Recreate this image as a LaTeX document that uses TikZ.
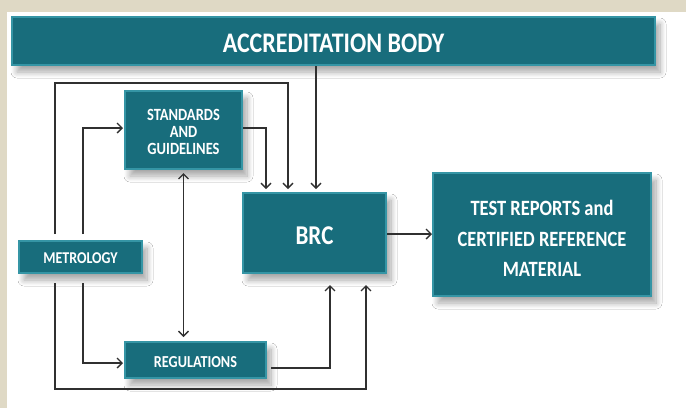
\documentclass[tikz,border=0pt]{standalone}
\usepackage{fontspec}
\setmainfont{Carlito}
\usetikzlibrary{arrows.meta,shadows.blur,calc}
\definecolor{paper}{HTML}{DFD9C5}
\definecolor{tealfill}{HTML}{186D7C}
\definecolor{tealedge}{HTML}{3595A5}
\definecolor{wire}{HTML}{303030}
% block text: slightly tall letters, set a little below the block centre
\newcommand\blocktext[2]{\raisebox{-#1}[\height][\depth]{\scalebox{1}[1.18]{\begin{tabular}{@{}c@{}}#2\end{tabular}}}}
\tikzset{
  block/.style={draw=tealedge, line width=2pt, fill=tealfill, text=white,
    font=\bfseries, inner sep=0pt,
    blur shadow={shadow xshift=5pt, shadow yshift=-7pt, shadow blur radius=6pt, shadow opacity=35, shadow blur steps=10}},
  arr/.style={draw=wire, line width=1.3pt, -{Straight Barb[length=5pt,width=10pt,line width=1.3pt]}},
  dbl/.style={draw=wire, line width=1.3pt, {Straight Barb[length=5pt,width=10pt,line width=1.3pt]}-{Straight Barb[length=5pt,width=10pt,line width=1.3pt]}}
}
\begin{document}
\begin{tikzpicture}[x=1pt,y=-1pt]
  % page: beige frame with a white panel
  \fill[paper] (0,0) rectangle (686,408);
  \fill[white] (7,12) rectangle (686,408);
  \useasboundingbox (0,0) rectangle (686,408);

  % blocks
  \node[block, minimum width=643pt, minimum height=48pt, font=\bfseries\fontsize{24}{26}\selectfont]
    (acc) at (333.5,41) {\blocktext{5pt}{ACCREDITATION BODY}};
  \node[block, minimum width=117pt, minimum height=78pt, font=\bfseries\fontsize{14.5}{14.5}\selectfont]
    (std) at (183.5,130) {\blocktext{4pt}{STANDARDS\\AND\\GUIDELINES}};
  \node[block, minimum width=143pt, minimum height=80pt, font=\bfseries\fontsize{23}{26}\selectfont]
    (brc) at (314.5,233) {\blocktext{5pt}{BRC}};
  \node[block, minimum width=218pt, minimum height=123pt, font=\bfseries\fontsize{18.5}{25.5}\selectfont]
    (test) at (542,234.5) {\blocktext{5.5pt}{TEST REPORTS and\\CERTIFIED REFERENCE\\MATERIAL}};
  \node[block, minimum width=123pt, minimum height=32pt, font=\bfseries\fontsize{14}{16}\selectfont]
    (met) at (80.5,257) {\blocktext{3pt}{METROLOGY}};
  \node[block, minimum width=141pt, minimum height=36pt, font=\bfseries\fontsize{14.2}{16}\selectfont]
    (reg) at (195.5,360) {\blocktext{4pt}{REGULATIONS}};

  % routing columns and rows
  \coordinate (c55) at (55,0);
  \coordinate (c83) at (83,0);
  \coordinate (c266) at (266,0);
  \coordinate (c288) at (288,0);
  \coordinate (c316) at (316,0);
  \coordinate (c330) at (330,0);
  \coordinate (c366) at (366,0);
  \coordinate (r83) at (0,83);
  \coordinate (r128) at (0,128);
  \coordinate (r234) at (0,234);
  \coordinate (r363) at (0,363);
  \coordinate (r368) at (0,368);
  \coordinate (r389) at (0,389);

  % connectors
  \draw[arr, shorten <=6pt, shorten >=3pt]
    (met.north -| c55) |- (r83 -| c288) -- (brc.north -| c288);
  \draw[arr, shorten <=6pt, shorten >=1pt]
    (met.north -| c83) |- (std.west |- r128);
  \draw[arr, shorten >=3pt]
    (std.east |- r128) -| (brc.north -| c266);
  \draw[arr, shorten >=3pt]
    (acc.south -| c316) -- (brc.north -| c316);
  \draw[dbl, shorten <=3pt, shorten >=4pt]
    (std.south) -- (std.south |- reg.north);
  \draw[arr, shorten <=9pt, shorten >=1pt]
    (met.south -| c83) |- (reg.west |- r363);
  \draw[arr, shorten <=9pt, shorten >=11pt]
    (met.south -| c55) |- (r389 -| c366) -- (brc.south -| c366);
  \draw[arr, shorten <=4pt, shorten >=11pt]
    (reg.east |- r368) -| (brc.south -| c330);
  \draw[arr]
    (brc.east |- r234) -- (test.west |- r234);
\end{tikzpicture}
\end{document}
